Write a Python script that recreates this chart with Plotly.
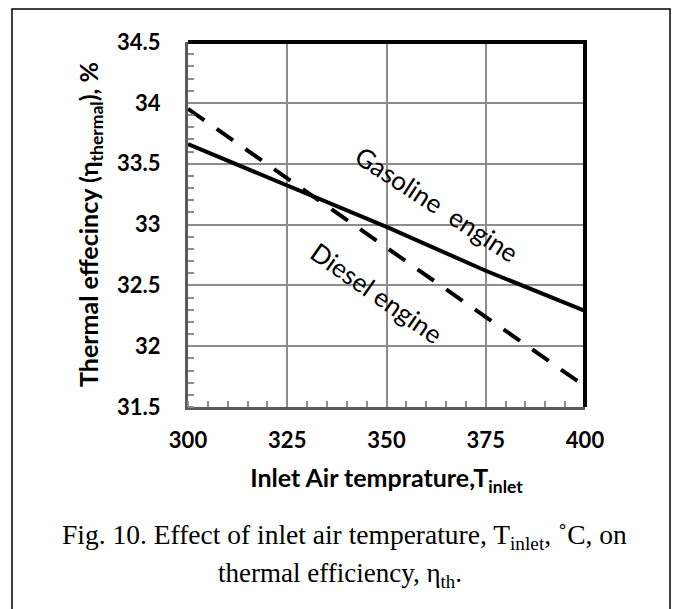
import plotly.graph_objects as go

# Inlet air temperature (x) and thermal efficiency (%) for both engines
temps = [300, 325, 350, 375, 400]
gasoline_eff = [33.66, 33.32, 32.98, 32.62, 32.29]
diesel_eff = [33.95, 33.38, 32.80, 32.24, 31.67]

x_ticks = [300, 325, 350, 375, 400]
y_ticks = [31.5, 32, 32.5, 33, 33.5, 34, 34.5]
y_tick_text = ["31.5", "32", "32.5", "33", "33.5", "34", "34.5"]

W, H = 678, 609
# plot area in pixels
PX0, PX1 = 188, 585
PY0, PY1 = 42, 407

def fx(px):
    return px / W

def fy(py):
    return 1 - py / H

SANS = "Lato, Open Sans, sans-serif"
SERIF = "Liberation Serif, DejaVu Serif, serif"

fig = go.Figure()
fig.add_trace(go.Scatter(
    x=temps, y=gasoline_eff, mode="lines", name="Gasoline engine",
    line=dict(color="black", width=4), showlegend=False,
))
fig.add_trace(go.Scatter(
    x=temps, y=diesel_eff, mode="lines", name="Diesel engine",
    line=dict(color="black", width=4, dash="20px,15px"), showlegend=False,
))

axis_common = dict(
    showgrid=True, gridcolor="#8c8c8c", gridwidth=1.5,
    showline=True, linecolor="#5a5a5a", linewidth=3,
    ticks="", zeroline=False, automargin=False,
    tickfont=dict(family=SANS, size=22, color="black", weight="bold"),
)

fig.update_xaxes(
    range=[300, 400], tickvals=x_ticks, ticktext=[str(v) for v in x_ticks],
    domain=[fx(PX0), fx(PX1)], ticklabelstandoff=12,
    minor=dict(dtick=5, ticks="inside", ticklen=6, tickcolor="#8c8c8c",
               tickwidth=1.5, showgrid=False),
    title=dict(text="Inlet Air temprature,T<sub>inlet</sub>", standoff=18,
               font=dict(family=SANS, size=25, color="black", weight="bold")),
    **axis_common,
)
fig.update_yaxes(
    range=[31.5, 34.5], tickvals=y_ticks, ticktext=y_tick_text,
    domain=[fy(PY1), fy(PY0)], ticklabelstandoff=20,
    minor=dict(dtick=0.1, ticks="inside", ticklen=6, tickcolor="#8c8c8c",
               tickwidth=1.5, showgrid=False),
    title=dict(text="Thermal effecincy (η<sub>thermal</sub>), %", standoff=12,
               font=dict(family=SANS, size=25, color="black", weight="bold")),
    **axis_common,
)

shapes = [
    # heavy top and right edges of the plot frame
    dict(type="line", xref="paper", yref="paper", x0=fx(PX0), x1=fx(PX1) + 2 / W,
         y0=fy(PY0), y1=fy(PY0), line=dict(color="black", width=4)),
    dict(type="line", xref="paper", yref="paper", x0=fx(PX1), x1=fx(PX1),
         y0=fy(PY0), y1=fy(PY1), line=dict(color="black", width=4)),
    # outer frame around chart and caption
    dict(type="rect", xref="paper", yref="paper", x0=fx(12), x1=fx(670),
         y0=fy(620), y1=fy(9), line=dict(color="black", width=1.5),
         fillcolor="rgba(0,0,0,0)"),
]

annotations = [
    dict(text="Gasoline  engine", x=fx(437), y=fy(204), xref="paper", yref="paper",
         xanchor="center", yanchor="middle", showarrow=False, textangle=33,
         font=dict(family=SANS, size=26, color="black")),
    dict(text="Diesel engine", x=fx(377), y=fy(293), xref="paper", yref="paper",
         xanchor="center", yanchor="middle", showarrow=False, textangle=35,
         font=dict(family=SANS, size=26, color="black")),
    dict(text="Fig. 10. Effect of inlet air temperature, T<sub>inlet</sub>, ˚C, on",
         x=fx(344), y=fy(536), xref="paper", yref="paper",
         xanchor="center", yanchor="middle", showarrow=False,
         font=dict(family=SERIF, size=27.5, color="black")),
    dict(text="thermal efficiency, η<sub>th</sub>.",
         x=fx(340), y=fy(575), xref="paper", yref="paper",
         xanchor="center", yanchor="middle", showarrow=False,
         font=dict(family=SERIF, size=27, color="black")),
]

fig.update_layout(
    width=W, height=H,
    margin=dict(l=0, r=0, t=0, b=0, autoexpand=False),
    paper_bgcolor="white", plot_bgcolor="white",
    shapes=shapes, annotations=annotations,
)

fig.write_html("out.html")
